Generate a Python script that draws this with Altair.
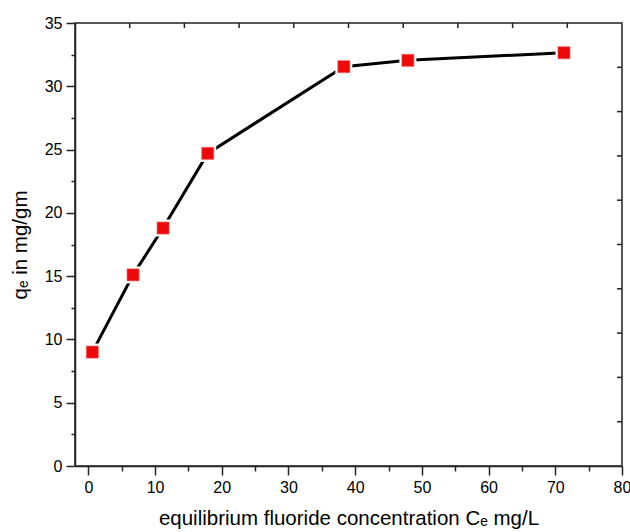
import altair as alt
import pandas as pd

ce = [0.6, 6.7, 11.2, 17.9, 38.3, 47.9, 71.3]
qe = [9.0, 15.1, 18.8, 24.7, 31.55, 32.05, 32.65]

x_major_minor = [0, 5, 10, 15, 20, 25, 30, 35, 40, 45, 50, 55, 60, 65, 70, 75, 80]
y_major_minor = [0, 2.5, 5, 7.5, 10, 12.5, 15, 17.5, 20, 22.5, 25, 27.5, 30, 32.5, 35]
top_ticks = [6.2, 14.4, 22.6, 30.8, 39.0, 47.2, 55.4, 63.6, 71.8]
right_ticks = [3.5, 7, 10.5, 14, 17.5, 21, 24.5, 28, 31.5]

df = pd.DataFrame({"ce": ce, "qe": qe})

W, H = 547, 443
FONT = "Liberation Sans"
AX = "#222222"

xscale = alt.Scale(domain=[-2, 80], nice=False, zero=False)
yscale = alt.Scale(domain=[0, 35], nice=False, zero=False)

x_axis = alt.Axis(
    values=x_major_minor,
    labelExpr="datum.value % 10 === 0 ? datum.label : ''",
    tickSize={"condition": {"test": "datum.value % 10 === 0", "value": 9}, "value": 5},
    tickColor=AX, tickWidth=1.5, domainColor=AX, domainWidth=1.5,
    labelFont=FONT, labelFontSize=16, labelColor="black", labelPadding=4,
    title="equilibrium fluoride concentration C\u2091 mg/L",
    titleFont=FONT, titleFontSize=20.5, titleFontWeight="normal", titleColor="black",
    titlePadding=13, grid=False, labelFlush=False, labelOverlap=False,
)
y_axis = alt.Axis(
    values=y_major_minor,
    labelExpr="datum.value % 5 === 0 ? datum.label : ''",
    tickSize={"condition": {"test": "datum.value % 5 === 0", "value": 9}, "value": 4},
    tickColor=AX, tickWidth=1.5, domainColor=AX, domainWidth=1.5,
    labelFont=FONT, labelFontSize=16, labelColor="black", labelPadding=4,
    title="q\u2091 in mg/gm",
    titleFont=FONT, titleFontSize=20.5, titleFontWeight="normal", titleColor="black",
    titlePadding=14, grid=False, labelFlush=False, labelOverlap=False,
)

base = alt.Chart(df)

X = alt.X("ce:Q", scale=xscale, axis=x_axis)
Y = alt.Y("qe:Q", scale=yscale, axis=y_axis)

line = base.mark_line(color="black", strokeWidth=3).encode(x=X, y=Y)
halo = base.mark_square(color="white", opacity=1, size=17 * 17).encode(x=X, y=Y)
pts = base.mark_square(color="#ee0a0a", opacity=1, size=12 * 12,
                       stroke="#f05050", strokeWidth=0.6).encode(x=X, y=Y)

# inward ticks on the top and right frame edges
top_df = pd.DataFrame({"t": top_ticks})
right_df = pd.DataFrame({"r": right_ticks})
top_marks = alt.Chart(top_df).mark_rule(color=AX, strokeWidth=1.5).encode(
    x=alt.X("t:Q", scale=xscale, axis=x_axis),
    y=alt.value(0), y2=alt.value(5),
)
right_marks = alt.Chart(right_df).mark_rule(color=AX, strokeWidth=1.5).encode(
    y=alt.Y("r:Q", scale=yscale, axis=y_axis),
    x=alt.value(W - 5), x2=alt.value(W),
)

chart = alt.layer(line, halo, pts, top_marks, right_marks).properties(
    width=W, height=H,
    autosize="none",
    background="white",
    padding={"left": 75, "top": 23, "right": 8, "bottom": 66},
).configure_view(stroke=AX, strokeWidth=1.5)

chart.save("out.html", embed_options={"renderer": "svg", "actions": False})
